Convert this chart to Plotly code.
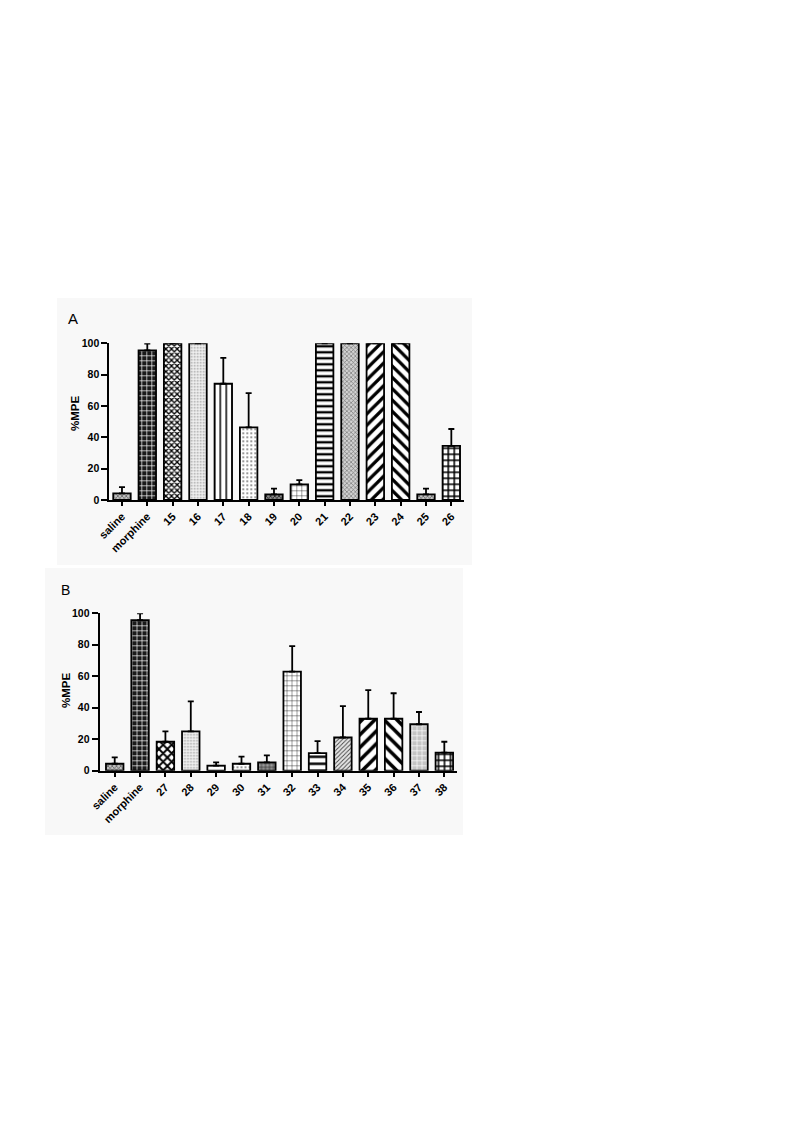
import plotly.graph_objects as go

W, H = 793, 1121
OFF = 8  # page body margin offset of the plot div

# ---------------- data ----------------
cats_a = ["saline", "morphine", "15", "16", "17", "18", "19", "20", "21", "22", "23", "24", "25", "26"]
mpe_a = [4.2, 95.5, 100, 100, 74.2, 46.4, 3.6, 10.0, 100, 100, 100, 100, 3.6, 34.5]
err_a = [4.0, 4.3, 0, 0, 16.5, 21.8, 3.6, 2.7, 0, 0, 0, 0, 3.6, 10.8]

cats_b = ["saline", "morphine", "27", "28", "29", "30", "31", "32", "33", "34", "35", "36", "37", "38"]
mpe_b = [4.4, 95.6, 18.4, 25.0, 3.2, 4.4, 5.3, 62.9, 11.2, 21.1, 33.0, 33.0, 29.5, 11.5]
err_b = [4.1, 4.4, 6.6, 19.0, 2.1, 4.5, 4.4, 16.3, 7.6, 19.9, 18.2, 16.2, 7.8, 6.9]

y_ticks = [0, 20, 40, 60, 80, 100]

# ---------------- styles (fill patterns per bar) ----------------
# (shape, fgcolor, bgcolor, size, solidity)
sty_a = [
    ("x", "#555555", "#c0c0c0", 3, 0.4),    # saline
    ("+", "#ffffff", "#1a1a1a", 5, 0.25),   # morphine (brick-like)
    ("x", "#000000", "#ffffff", 4, 0.55),   # 15 checker
    (".", "#999999", "#f0f0f0", 3, 0.25),   # 16
    ("|", "#000000", "#ffffff", 6, 0.25),   # 17
    (".", "#777777", "#ffffff", 4, 0.2),    # 18
    ("x", "#222222", "#8a8a8a", 3, 0.45),   # 19
    ("+", "#000000", "#ffffff", 5, 0.15),   # 20
    ("-", "#000000", "#ffffff", 6, 0.4),    # 21
    ("x", "#666666", "#d2d2d2", 3, 0.35),   # 22
    ("/", "#000000", "#ffffff", 8, 0.4),    # 23
    ("\\", "#000000", "#ffffff", 8, 0.4),   # 24
    ("x", "#555555", "#c0c0c0", 3, 0.4),    # 25
    ("+", "#000000", "#ffffff", 6, 0.45),   # 26
]
sty_b = [
    ("x", "#555555", "#c0c0c0", 3, 0.4),    # saline
    ("+", "#ffffff", "#1a1a1a", 5, 0.25),   # morphine
    ("x", "#000000", "#ffffff", 6, 0.55),   # 27 checker
    (".", "#999999", "#f0f0f0", 3, 0.25),   # 28
    ("-", "#000000", "#ffffff", 5, 0.2),    # 29
    (".", "#777777", "#ffffff", 4, 0.2),    # 30
    ("+", "#222222", "#999999", 4, 0.3),    # 31
    ("+", "#000000", "#ffffff", 5, 0.15),   # 32
    ("-", "#000000", "#ffffff", 7, 0.35),   # 33
    ("/", "#444444", "#e6e6e6", 3, 0.3),    # 34
    ("/", "#000000", "#ffffff", 9, 0.4),    # 35
    ("\\", "#000000", "#ffffff", 9, 0.4),   # 36
    ("+", "#ffffff", "#c4c4c4", 5, 0.25),   # 37 light brick
    ("+", "#000000", "#ffffff", 6, 0.45),   # 38
]


def px(x):
    return (x - OFF) / W


def py(y):
    return 1 - (y - OFF) / H


def bar_trace(cats, vals, errs, sty, xa, ya):
    return go.Bar(
        x=list(range(len(cats))), y=vals, xaxis=xa, yaxis=ya, width=0.69,
        marker=dict(
            color="#ffffff",
            line=dict(color="#000000", width=1.8),
            pattern=dict(
                shape=[s[0] for s in sty],
                fgcolor=[s[1] for s in sty],
                bgcolor=[s[2] for s in sty],
                size=[s[3] for s in sty],
                solidity=[s[4] for s in sty],
                fillmode="replace",
            ),
        ),
        error_y=dict(type="data", symmetric=False, array=errs,
                     arrayminus=[0] * len(errs), color="#000000",
                     thickness=1.8, width=3),
        showlegend=False,
        cliponaxis=False,
    )


fig = go.Figure()
fig.add_trace(bar_trace(cats_a, mpe_a, err_a, sty_a, "x", "y"))
fig.add_trace(bar_trace(cats_b, mpe_b, err_b, sty_b, "x2", "y2"))

font_tick = dict(family="Liberation Sans, Arial, sans-serif", size=10.5, color="#000", weight="bold")
font_xtick = dict(family="Liberation Sans, Arial, sans-serif", size=11, color="#000", weight="bold")

xcommon = dict(tickmode="array", tickangle=-45, ticks="outside", ticklen=4,
               tickwidth=1.5, tickcolor="#000", showline=True, linecolor="#000",
               linewidth=1.8, showgrid=False, zeroline=False, tickfont=font_xtick,
               fixedrange=True, automargin=False)
ycommon = dict(tickmode="array", tickvals=y_ticks, ticks="outside", ticklen=6,
               tickwidth=1.5, tickcolor="#000", showline=True, linecolor="#000",
               linewidth=1.8, showgrid=False, zeroline=False, tickfont=font_tick,
               range=[0, 100], fixedrange=True, automargin=False)

ann_common = dict(xref="paper", yref="paper", showarrow=False,
                  xanchor="center", yanchor="middle")

fig.update_layout(
    width=W, height=H,
    autosize=False,
    margin=dict(l=0, r=0, t=0, b=0, pad=0, autoexpand=False),
    paper_bgcolor="#ffffff",
    plot_bgcolor="rgba(0,0,0,0)",
    xaxis=dict(xcommon, domain=[px(109.3), px(464)], range=[-0.5, 13.5],
               tickvals=list(range(len(cats_a))), ticktext=cats_a, anchor="y"),
    yaxis=dict(ycommon, domain=[py(500), py(343.3)], anchor="x"),
    xaxis2=dict(xcommon, domain=[px(99.5), px(457)], range=[-0.6, 13.5],
                tickvals=list(range(len(cats_b))), ticktext=cats_b, anchor="y2"),
    yaxis2=dict(ycommon, domain=[py(770.7), py(613.3)], anchor="x2"),
    shapes=[
        dict(type="rect", xref="paper", yref="paper", layer="below",
             x0=px(57), x1=px(472), y0=py(565), y1=py(298),
             fillcolor="#f8f8f8", line=dict(width=0)),
        dict(type="rect", xref="paper", yref="paper", layer="below",
             x0=px(45), x1=px(463), y0=py(835), y1=py(568),
             fillcolor="#f8f8f8", line=dict(width=0)),
    ],
    annotations=[
        dict(ann_common, text="A", x=px(73), y=py(318.5),
             font=dict(family="Liberation Sans, Arial", size=15, color="#000")),
        dict(ann_common, text="B", x=px(66), y=py(590),
             font=dict(family="Liberation Sans, Arial", size=14, color="#000")),
        dict(ann_common, text="%MPE", x=px(75), y=py(414), textangle=-90,
             font=dict(family="Liberation Sans, Arial", size=11.5, color="#000", weight="bold")),
        dict(ann_common, text="%MPE", x=px(66), y=py(690), textangle=-90,
             font=dict(family="Liberation Sans, Arial", size=11.5, color="#000", weight="bold")),
    ],
)

fig.write_html("out.html", config={"displayModeBar": False})
